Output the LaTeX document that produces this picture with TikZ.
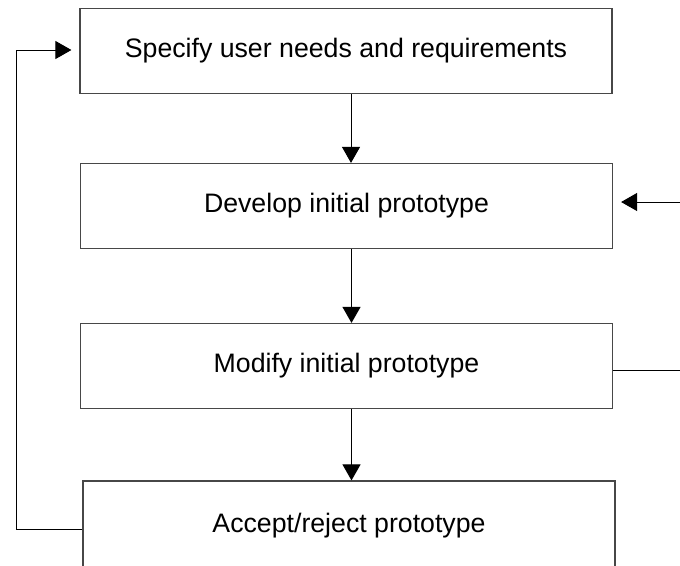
\documentclass[tikz,border=0pt]{standalone}
\usepackage{fontspec}
\setmainfont{Liberation Sans}
\usetikzlibrary{arrows.meta,calc}
\begin{document}
\begin{tikzpicture}[x=1pt,y=-1pt,
  stagebox/.style={draw=black!72,line width=1.2pt,fill=white,minimum width=532pt,minimum height=85pt,inner sep=0pt,font=\fontsize{26.7}{32}\selectfont,text=black},
  flow/.style={draw=black,line width=1pt,-{Triangle[length=16pt,width=18pt]}},
  plainline/.style={draw=black!75,line width=1pt}]
\useasboundingbox (0,0) rectangle (680,565);
\clip (0,0) rectangle (680,565);
\node[stagebox] (b1) at (346,51) {Specify user needs and requirements};
\node[stagebox] (b2) at (346.5,206) {Develop initial prototype};
\node[stagebox] (b3) at (346.5,366) {Modify initial prototype};
\node[stagebox,minimum height=90pt] (b4) at (349,526) {Accept/reject prototype};
\coordinate (lx) at (16,0);
\coordinate (rx) at (720,0);
\coordinate (b1in) at ([yshift=1pt]b1.west);
\coordinate (b2in) at ([yshift=4pt]b2.east);
\coordinate (b3out) at ([yshift=-4pt]b3.east);
\coordinate (b4out) at ([yshift=-3pt]b4.west);
\draw[flow] ([xshift=5pt]b1.south) -- ([xshift=5pt]b1.south |- b2.north);
\draw[flow] ([xshift=5pt]b2.south) -- ([xshift=5pt]b2.south |- b3.north);
\draw[flow] ([xshift=5pt]b3.south) -- ([xshift=5pt]b3.south |- b4.north);
\draw[flow,shorten >=8pt] (b4out) -| (lx |- b1in) -- (b1in);
\draw[flow,shorten >=8pt] (b3out) -| (rx |- b2in) -- (b2in);
\end{tikzpicture}
\end{document}
